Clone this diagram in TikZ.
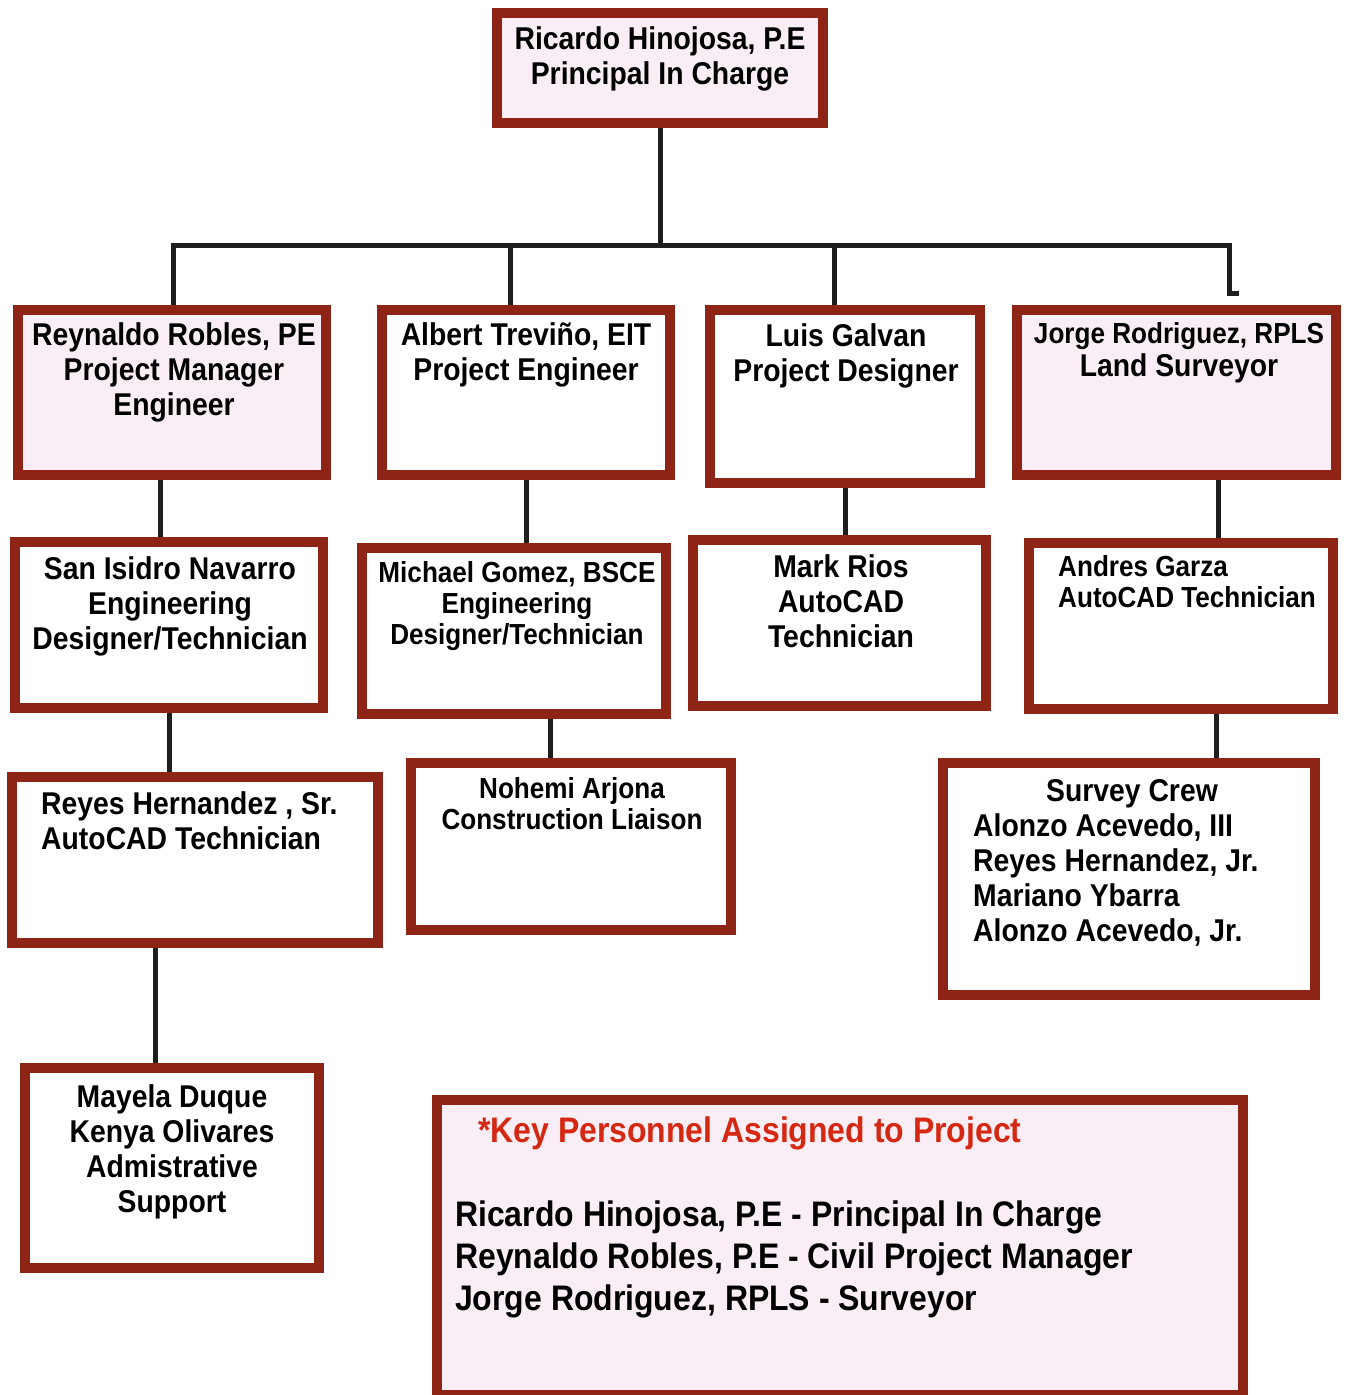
\documentclass[tikz,border=0pt]{standalone}
\usepackage{fontspec}
\setmainfont{Liberation Sans}[FakeStretch=0.9]
\definecolor{bord}{RGB}{142,36,22}
\definecolor{pinkfill}{RGB}{250,238,246}
\definecolor{keyred}{RGB}{212,40,18}
\definecolor{connc}{RGB}{30,30,30}
\newcommand\obox[6]{\node[orgbox, fill=#6, minimum width={#4-#2-10}, minimum height={#5-#3-10}] (#1) at ({(#2+#4)/2},{(#3+#5)/2}) {};}
\tikzset{
  orgbox/.style={draw=bord, line width=10pt, inner sep=0pt, rectangle},
  conn/.style={draw=connc, line width=5pt},
  txt/.style={inner sep=0pt, anchor=base, align=center, text=black, font=\bfseries\fontsize{31.5}{35}\selectfont},
  txtsm/.style={txt, font=\bfseries\fontsize{29}{31}\selectfont},
  txtl/.style={txt, align=left, anchor=base west},
  keytxt/.style={inner sep=0pt, anchor=base west, align=left, font=\bfseries\fontsize{35.5}{42}\selectfont},
}
\begin{document}
% note: for multi-line nodes the base anchor lies on the last line
\begin{tikzpicture}[x=1pt,y=-1pt]
\useasboundingbox (0,0) rectangle (1348,1395);
% boxes
\obox{top}{492}{8}{828}{128}{pinkfill}
\obox{robles}{13}{305}{331}{480}{pinkfill}
\obox{trevino}{377}{305}{675}{480}{white}
\obox{galvan}{705}{305}{985}{488}{white}
\obox{rodriguez}{1012}{305}{1341}{480}{pinkfill}
\obox{sanisidro}{10}{537}{328}{713}{white}
\obox{gomez}{357}{543}{671}{719}{white}
\obox{rios}{688}{535}{991}{711}{white}
\obox{garza}{1024}{538}{1338}{714}{white}
\obox{reyes}{7}{772}{383}{948}{white}
\obox{nohemi}{406}{758}{736}{935}{white}
\obox{survey}{938}{758}{1320}{1000}{white}
\obox{mayela}{20}{1063}{324}{1273}{white}
\obox{keybox}{432}{1095}{1248}{1400}{pinkfill}
% texts
\node[txt] (ttop) at (660,84) {Ricardo Hinojosa, P.E\\Principal In Charge};
\node[txt] (trobles) at (174,415) {Reynaldo Robles, PE\\Project Manager\\Engineer};
\node[txt] (ttrevino) at (526,380) {Albert Treviño, EIT\\Project Engineer};
\node[txt] (tgalvan) at (846,381) {Luis Galvan\\Project Designer};
\node[txt, font=\bfseries\fontsize{31.5}{33}\selectfont] (trodriguez) at (1179,376) {{\fontsize{29}{33}\selectfont Jorge Rodriguez, RPLS}\\Land Surveyor};
\node[txt] (tsanisidro) at (170,649) {San Isidro Navarro\\Engineering\\Designer/Technician};
\node[txtsm] (tgomez) at (517,644) {Michael Gomez, BSCE\\Engineering\\Designer/Technician};
\node[txt] (trios) at (841,647) {Mark Rios\\AutoCAD\\Technician};
\node[txtsm, align=left, anchor=base west] (tgarza) at (1058,607) {Andres Garza\\AutoCAD Technician};
\node[txtl] (treyes) at (41,849) {Reyes Hernandez , Sr.\\AutoCAD Technician};
\node[txtsm] (tnohemi) at (572,829) {Nohemi Arjona\\Construction Liaison};
\node[txt] (tsurveyhead) at (1132,801) {Survey Crew};
\node[txtl] (tsurvey) at (973,941) {Alonzo Acevedo, III\\Reyes Hernandez, Jr.\\Mariano Ybarra\\Alonzo Acevedo, Jr.};
\node[txt] (tmayela) at (172,1212) {Mayela Duque\\Kenya Olivares\\Admistrative\\Support};
\node[keytxt, text=keyred] (tkeyhead) at (478,1142) {*Key Personnel Assigned to Project};
\node[keytxt, text=black] (tkey) at (455,1310) {Ricardo Hinojosa, P.E - Principal In Charge\\Reynaldo Robles, P.E - Civil Project Manager\\Jorge Rodriguez, RPLS - Surveyor};
% connectors
\coordinate (bl) at (173,245);
\coordinate (br) at (1229,245);
\coordinate (b2) at (510,245);
\coordinate (b3) at (834,245);
\coordinate (stub) at (1239,296);
\draw[conn] (top.south) -- (top.south |- bl);
\draw[conn] ([xshift=-2.5pt]bl) -- ([xshift=2.5pt]br);
\draw[conn] (bl) -- (bl |- robles.north);
\draw[conn] (b2) -- (b2 |- trevino.north);
\draw[conn] (b3) -- (b3 |- galvan.north);
\draw[conn] (br) -- ([yshift=2.5pt]br |- stub) -- ([yshift=2.5pt]stub);
\draw[conn] ([xshift=-12pt]robles.south) -- ([xshift=-12pt]robles.south |- sanisidro.north);
\draw[conn] (trevino.south) -- (trevino.south |- gomez.north);
\draw[conn] (galvan.south) -- (galvan.south |- rios.north);
\draw[conn] ([xshift=41.5pt]rodriguez.south) -- ([xshift=41.5pt]rodriguez.south |- garza.north);
\draw[conn] (sanisidro.south) -- (sanisidro.south |- reyes.north);
\draw[conn] ([xshift=36pt]gomez.south) -- ([xshift=36pt]gomez.south |- nohemi.north);
\draw[conn] ([xshift=35pt]garza.south) -- ([xshift=35pt]garza.south |- survey.north);
\draw[conn] ([xshift=-40pt]reyes.south) -- ([xshift=-40pt]reyes.south |- mayela.north);
\end{tikzpicture}
\end{document}
